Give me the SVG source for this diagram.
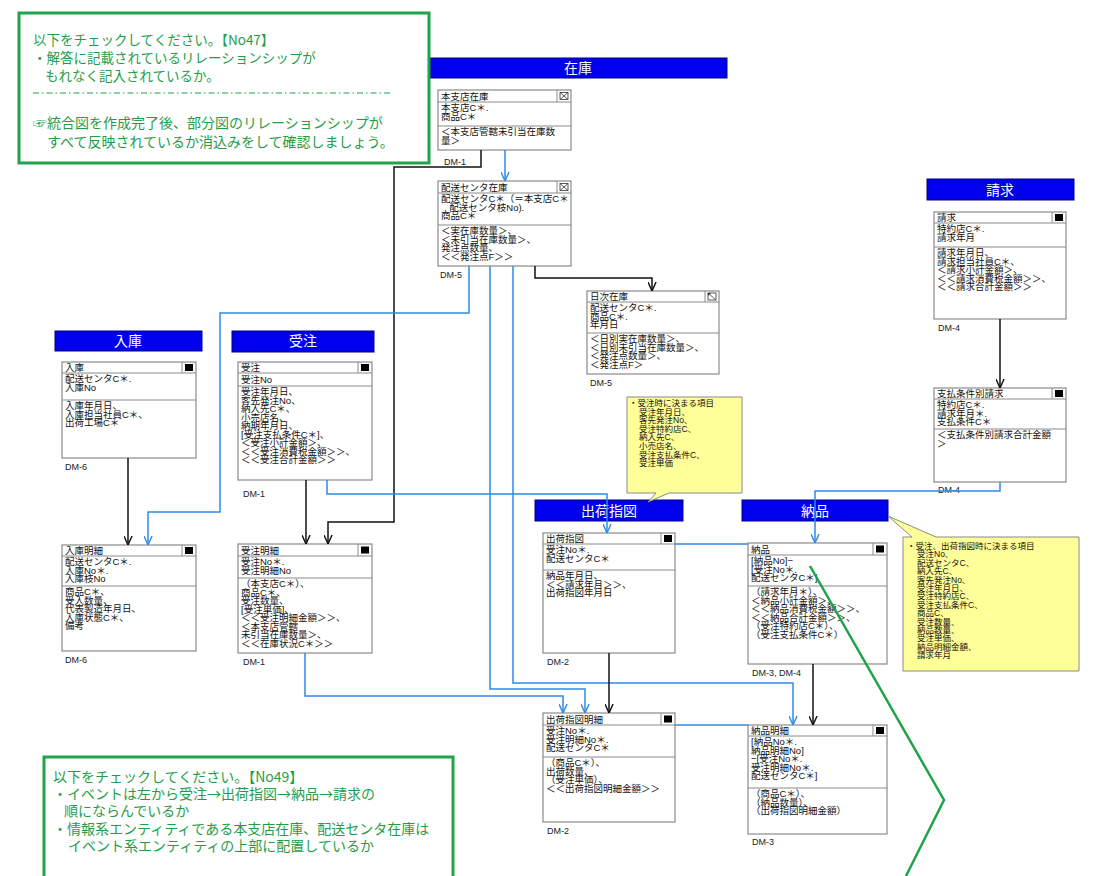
<svg xmlns="http://www.w3.org/2000/svg" width="1095" height="876" viewBox="0 0 1095 876">
<style>
.bg{fill:#ffffff}
.box{fill:#ffffff;stroke:#8a8a8a;stroke-width:1.2}
.sep{stroke:#8a8a8a;stroke-width:1}
.t{font-family:'Liberation Sans','Noto Sans CJK JP',sans-serif;font-size:9.5px;fill:#111}
.dm{font-family:'Liberation Sans','Noto Sans CJK JP',sans-serif;font-size:9px;fill:#222}
.hd{fill:#0000ee;stroke:#00007a;stroke-width:1}
.ht{font-family:'Liberation Sans','Noto Sans CJK JP',sans-serif;font-size:14px;fill:#ffffff;text-anchor:middle}
.ic{fill:#000}
.bl{fill:none;stroke:#2e8ae6;stroke-width:1.5}
.bk{fill:none;stroke:#111;stroke-width:1.5}
.note{fill:#ffff99;stroke:#8a8a8a;stroke-width:1}
.nt{font-family:'Liberation Sans','Noto Sans CJK JP',sans-serif;font-size:8.5px;fill:#111}
.gbox{fill:#ffffff;stroke:#1fa34a;stroke-width:3}
.gt{font-family:'Noto Sans CJK JP',sans-serif;fill:#1f9e4a}
</style>
<defs>
<marker id="ab" viewBox="0 0 10 10" refX="10" refY="5" markerWidth="9" markerHeight="9" markerUnits="userSpaceOnUse" orient="auto">
<path d="M0,0.5 L10,5 L0,9.5" fill="none" stroke="#111" stroke-width="1.6"/>
</marker>
<marker id="au" viewBox="0 0 10 10" refX="10" refY="5" markerWidth="9" markerHeight="9" markerUnits="userSpaceOnUse" orient="auto">
<path d="M0,0.5 L10,5 L0,9.5" fill="none" stroke="#2e8ae6" stroke-width="1.6"/>
</marker>
</defs>
<rect class="bg" x="0" y="0" width="1095" height="876"/>

<!-- headers -->
<g id="hdr-zaiko"><rect class="hd" x="430" y="58" width="297" height="20"/><text class="ht" x="578" y="73">在庫</text></g>
<g id="hdr-seikyu"><rect class="hd" x="927" y="179" width="147" height="21"/><text class="ht" x="1000" y="195">請求</text></g>
<g id="hdr-nyuko"><rect class="hd" x="55" y="331" width="147" height="20"/><text class="ht" x="128" y="346">入庫</text></g>
<g id="hdr-juchu"><rect class="hd" x="232" y="331" width="142" height="21"/><text class="ht" x="303" y="346">受注</text></g>
<g id="hdr-shukka"><rect class="hd" x="535" y="500" width="148" height="21"/><text class="ht" x="609" y="516">出荷指図</text></g>
<g id="hdr-nohin"><rect class="hd" x="742" y="500" width="146" height="21"/><text class="ht" x="815" y="516">納品</text></g>

<!-- green note top -->
<g id="note-no47">
<rect class="gbox" x="19" y="13" width="410" height="150"/>
<text class="gt" font-size="13.5" x="33" y="45">以下をチェックしてください。【No47】</text>
<text class="gt" font-size="13.5" x="33" y="63">・解答に記載されているリレーションシップが</text>
<text class="gt" font-size="13.5" x="45" y="81">もれなく記入されているか。</text>
<line x1="33" y1="93" x2="393" y2="93" stroke="#1fa34a" stroke-width="1" stroke-dasharray="6,3,1.5,3"/>
<text class="gt" font-size="14" x="33" y="128">☞統合図を作成完了後、部分図のリレーションシップが</text>
<text class="gt" font-size="14" x="47" y="147">すべて反映されているか消込みをして確認しましょう。</text>
</g>

<!-- green note bottom -->
<g id="note-no49">
<rect class="gbox" x="44" y="757" width="409" height="130"/>
<text class="gt" font-size="14" x="53" y="782">以下をチェックしてください。【No49】</text>
<text class="gt" font-size="14" x="53" y="799">・イベントは左から受注→出荷指図→納品→請求の</text>
<text class="gt" font-size="14" x="64" y="816">順にならんでいるか</text>
<text class="gt" font-size="14" x="53" y="834">・情報系エンティティである本支店在庫、配送センタ在庫は</text>
<text class="gt" font-size="14" x="68" y="851">イベント系エンティティの上部に配置しているか</text>
</g>

<!-- yellow notes -->
<g id="note-juchu">
<path class="note" d="M627,397 H742 V493 H669 L648,502 L656,493 H627 Z"/>
<text class="nt" x="629" y="406">・受注時に決まる項目</text>
<text class="nt" x="639" y="414.6">受注年月日、</text>
<text class="nt" x="639" y="423.2">客先発注No、</text>
<text class="nt" x="639" y="431.8">受注特約店C、</text>
<text class="nt" x="639" y="440.4">納入先C、</text>
<text class="nt" x="639" y="449">小売店名、</text>
<text class="nt" x="639" y="457.6">受注支払条件C、</text>
<text class="nt" x="639" y="466.2">受注単価</text>
</g>
<g id="note-shukka">
<path class="note" d="M903,537 H912 L888,516 L936,537 H1079 V671 H903 Z"/>
<text class="nt" x="907" y="549">・受注、出荷指図時に決まる項目</text>
<text class="nt" x="917" y="557.4">受注No、</text>
<text class="nt" x="917" y="565.8">配送センタC、</text>
<text class="nt" x="917" y="574.2">納入先C、</text>
<text class="nt" x="917" y="582.6">客先発注No、</text>
<text class="nt" x="917" y="591">受注年月日、</text>
<text class="nt" x="917" y="599.4">受注特約店C、</text>
<text class="nt" x="917" y="607.8">受注支払条件C、</text>
<text class="nt" x="917" y="616.2">商品C、</text>
<text class="nt" x="917" y="624.6">受注数量、</text>
<text class="nt" x="917" y="633">納品数量、</text>
<text class="nt" x="917" y="641.4">受注単価、</text>
<text class="nt" x="917" y="649.8">納品明細金額、</text>
<text class="nt" x="917" y="658.2">請求年月</text>
</g>

<!-- entities -->
<g id="e-honshiten">
<rect class="box" x="438" y="90" width="133" height="60"/>
<line class="sep" x1="438" y1="102" x2="571" y2="102"/><line class="sep" x1="438" y1="126" x2="571" y2="126"/><line class="sep" x1="557" y1="90" x2="557" y2="102"/>
<rect x="560" y="92.5" width="8" height="7" fill="none" stroke="#333" stroke-width="0.8"/><path d="M560,92.5 L568,99.5 M568,92.5 L560,99.5" stroke="#333" stroke-width="0.8"/>
<text class="t" x="441" y="99.5">本支店在庫</text>
<text class="t" x="441" y="111">本支店C＊.</text><text class="t" x="441" y="119.5">商品C＊</text>
<text class="t" x="441" y="135">＜本支店管轄未引当在庫数</text><text class="t" x="441" y="143.5">量＞</text>
<text class="dm" x="444" y="165">DM-1</text>
</g>
<g id="e-haiso">
<rect class="box" x="438" y="181" width="133" height="85"/>
<line class="sep" x1="438" y1="193" x2="571" y2="193"/><line class="sep" x1="438" y1="225" x2="571" y2="225"/><line class="sep" x1="557" y1="181" x2="557" y2="193"/>
<rect x="560" y="183.5" width="8" height="7" fill="none" stroke="#333" stroke-width="0.8"/><path d="M560,183.5 L568,190.5 M568,183.5 L560,190.5" stroke="#333" stroke-width="0.8"/>
<text class="t" x="441" y="190.5">配送センタ在庫</text>
<text class="t" x="441" y="202">配送センタC＊（＝本支店C＊</text><text class="t" x="444" y="210.5">. 配送センタ枝No).</text><text class="t" x="441" y="219">商品C＊</text>
<text class="t" x="441" y="234">＜実在庫数量＞、</text><text class="t" x="441" y="242.5">＜未引当在庫数量＞、</text><text class="t" x="441" y="251">発注点数量、</text><text class="t" x="441" y="259.5">＜＜発注点F＞＞</text>
<text class="dm" x="440" y="278">DM-5</text>
</g>
<g id="e-nichiji">
<rect class="box" x="587" y="291" width="132" height="83"/>
<line class="sep" x1="587" y1="302" x2="719" y2="302"/><line class="sep" x1="587" y1="333" x2="719" y2="333"/><line class="sep" x1="705" y1="291" x2="705" y2="302"/>
<rect x="708" y="293" width="8" height="7" fill="none" stroke="#333" stroke-width="0.8"/><path d="M708,293 L716,300" stroke="#333" stroke-width="0.8"/><path d="M708,293 L711,293 L708,296 Z" fill="#333"/>
<text class="t" x="590" y="300">日次在庫</text>
<text class="t" x="590" y="311">配送センタC＊.</text><text class="t" x="590" y="319.5">商品C＊.</text><text class="t" x="590" y="328">年月日</text>
<text class="t" x="590" y="342">＜日別実在庫数量＞、</text><text class="t" x="590" y="350.5">＜日別未引当在庫数量＞、</text><text class="t" x="590" y="359">＜発注点数量＞、</text><text class="t" x="590" y="367.5">＜発注点F＞</text>
<text class="dm" x="590" y="386">DM-5</text>
</g>
<g id="e-seikyu">
<rect class="box" x="934" y="212" width="132" height="107"/>
<line class="sep" x1="934" y1="223" x2="1066" y2="223"/><line class="sep" x1="934" y1="247" x2="1066" y2="247"/><line class="sep" x1="1052" y1="212" x2="1052" y2="223"/>
<rect class="ic" x="1055" y="214" width="8" height="7"/>
<text class="t" x="937" y="221">請求</text>
<text class="t" x="937" y="232">特約店C＊.</text><text class="t" x="937" y="240.5">請求年月</text>
<text class="t" x="937" y="256">請求年月日、</text><text class="t" x="937" y="264.5">請求担当社員C＊、</text><text class="t" x="937" y="273">＜請求小計金額＞、</text><text class="t" x="937" y="281.5">＜＜請求消費税金額＞＞、</text><text class="t" x="937" y="290">＜＜請求合計金額＞＞</text>
<text class="dm" x="938" y="331">DM-4</text>
</g>
<g id="e-shiharai">
<rect class="box" x="934" y="388" width="132" height="94"/>
<line class="sep" x1="934" y1="399" x2="1066" y2="399"/><line class="sep" x1="934" y1="429" x2="1066" y2="429"/><line class="sep" x1="1052" y1="388" x2="1052" y2="399"/>
<rect class="ic" x="1055" y="390" width="8" height="7"/>
<text class="t" x="937" y="397">支払条件別請求</text>
<text class="t" x="937" y="408">特約店C＊.</text><text class="t" x="937" y="416.5">請求年月＊.</text><text class="t" x="937" y="425">支払条件C＊</text>
<text class="t" x="937" y="438">＜支払条件別請求合計金額</text><text class="t" x="937" y="446.5">＞</text>
<text class="dm" x="938" y="493">DM-4</text>
</g>
<g id="e-nyuko">
<rect class="box" x="62" y="362" width="134" height="96"/>
<line class="sep" x1="62" y1="373" x2="196" y2="373"/><line class="sep" x1="62" y1="400" x2="196" y2="400"/><line class="sep" x1="182" y1="362" x2="182" y2="373"/>
<rect class="ic" x="185" y="364" width="8" height="7"/>
<text class="t" x="65" y="371">入庫</text>
<text class="t" x="65" y="382">配送センタC＊.</text><text class="t" x="65" y="390.5">入庫No</text>
<text class="t" x="65" y="409">入庫年月日、</text><text class="t" x="65" y="417.5">入庫担当社員C＊、</text><text class="t" x="65" y="426">出荷工場C＊</text>
<text class="dm" x="65" y="470">DM-6</text>
</g>
<g id="e-nyukomeisai">
<rect class="box" x="62" y="545" width="134" height="106"/>
<line class="sep" x1="62" y1="556" x2="196" y2="556"/><line class="sep" x1="62" y1="586" x2="196" y2="586"/><line class="sep" x1="182" y1="545" x2="182" y2="556"/>
<rect class="ic" x="185" y="547" width="8" height="7"/>
<text class="t" x="65" y="554">入庫明細</text>
<text class="t" x="65" y="565">配送センタC＊.</text><text class="t" x="65" y="573.5">入庫No＊.</text><text class="t" x="65" y="582">入庫枝No</text>
<text class="t" x="65" y="595">商品C＊、</text><text class="t" x="65" y="603.5">受入数量、</text><text class="t" x="65" y="612">代表製造年月日、</text><text class="t" x="65" y="620.5">入庫状態C＊、</text><text class="t" x="65" y="629">備考</text>
<text class="dm" x="65" y="663">DM-6</text>
</g>
<g id="e-juchu">
<rect class="box" x="238" y="362" width="134" height="118"/>
<line class="sep" x1="238" y1="373" x2="372" y2="373"/><line class="sep" x1="238" y1="386" x2="372" y2="386"/><line class="sep" x1="358" y1="362" x2="358" y2="373"/>
<rect class="ic" x="361" y="364" width="8" height="7"/>
<text class="t" x="241" y="371">受注</text>
<text class="t" x="241" y="382.5">受注No</text>
<text class="t" x="241" y="395">受注年月日、</text><text class="t" x="241" y="403.5">客先発注No、</text><text class="t" x="241" y="412">納入先C＊、</text><text class="t" x="241" y="420.5">小売店名、</text><text class="t" x="241" y="429">納期年月日、</text><text class="t" x="241" y="437.5">[受注支払条件C＊]、</text><text class="t" x="241" y="446">＜受注小計金額＞、</text><text class="t" x="241" y="454.5">＜＜受注消費税金額＞＞、</text><text class="t" x="241" y="463">＜＜受注合計金額＞＞</text>
<text class="dm" x="243" y="497">DM-1</text>
</g>
<g id="e-juchumeisai">
<rect class="box" x="238" y="544" width="134" height="109"/>
<line class="sep" x1="238" y1="556" x2="372" y2="556"/><line class="sep" x1="238" y1="578" x2="372" y2="578"/><line class="sep" x1="358" y1="544" x2="358" y2="556"/>
<rect class="ic" x="361" y="546.5" width="8" height="7"/>
<text class="t" x="241" y="553.5">受注明細</text>
<text class="t" x="241" y="565">受注No＊.</text><text class="t" x="241" y="573.5">受注明細No</text>
<text class="t" x="241" y="587">（本支店C＊）、</text><text class="t" x="241" y="595.5">商品C＊、</text><text class="t" x="241" y="604">受注数量、</text><text class="t" x="241" y="612.5">[受注単価]、</text><text class="t" x="241" y="621">＜＜受注明細金額＞＞、</text><text class="t" x="241" y="629.5">＜本支店管轄</text><text class="t" x="241" y="638">未引当在庫数量＞、</text><text class="t" x="241" y="646.5">＜＜在庫状況C＊＞＞</text>
<text class="dm" x="243" y="665">DM-1</text>
</g>
<g id="e-shukka">
<rect class="box" x="543" y="533" width="132" height="120"/>
<line class="sep" x1="543" y1="544" x2="675" y2="544"/><line class="sep" x1="543" y1="570" x2="675" y2="570"/><line class="sep" x1="661" y1="533" x2="661" y2="544"/>
<rect class="ic" x="664" y="535" width="8" height="7"/>
<text class="t" x="546" y="542">出荷指図</text>
<text class="t" x="546" y="553">受注No＊.</text><text class="t" x="546" y="561.5">配送センタC＊</text>
<text class="t" x="546" y="579">納品年月日、</text><text class="t" x="546" y="587.5">＜＜請求年月＞＞、</text><text class="t" x="546" y="596">出荷指図年月日</text>
<text class="dm" x="547" y="665">DM-2</text>
</g>
<g id="e-shukkameisai">
<rect class="box" x="543" y="713" width="132" height="109"/>
<line class="sep" x1="543" y1="725" x2="675" y2="725"/><line class="sep" x1="543" y1="757" x2="675" y2="757"/><line class="sep" x1="661" y1="713" x2="661" y2="725"/>
<rect class="ic" x="664" y="715.5" width="8" height="7"/>
<text class="t" x="546" y="722.5">出荷指図明細</text>
<text class="t" x="546" y="734">受注No＊.</text><text class="t" x="546" y="742.5">受注明細No＊.</text><text class="t" x="546" y="751">配送センタC＊</text>
<text class="t" x="546" y="766">（商品C＊）、</text><text class="t" x="546" y="774.5">出荷数量、</text><text class="t" x="546" y="783">（受注単価）、</text><text class="t" x="546" y="791.5">＜＜出荷指図明細金額＞＞</text>
<text class="dm" x="547" y="834">DM-2</text>
</g>
<g id="e-nohin">
<rect class="box" x="748" y="543" width="139" height="121"/>
<line class="sep" x1="748" y1="555" x2="887" y2="555"/><line class="sep" x1="748" y1="586" x2="887" y2="586"/><line class="sep" x1="873" y1="543" x2="873" y2="555"/>
<rect class="ic" x="876" y="545.5" width="8" height="7"/>
<text class="t" x="751" y="552.5">納品</text>
<text class="t" x="751" y="564">[納品No]−</text><text class="t" x="751" y="572.5">[受注No＊.</text><text class="t" x="751" y="581">配送センタC＊]</text>
<text class="t" x="751" y="595">（請求年月＊）、</text><text class="t" x="751" y="603.5">＜納品小計金額＞、</text><text class="t" x="751" y="612">＜＜納品消費税金額＞＞、</text><text class="t" x="751" y="620.5">＜＜納品合計金額＞＞、</text><text class="t" x="751" y="629">（受注特約店C＊）、</text><text class="t" x="751" y="637.5">（受注支払条件C＊）</text>
<text class="dm" x="752" y="676">DM-3, DM-4</text>
</g>
<g id="e-nohinmeisai">
<rect class="box" x="748" y="725" width="139" height="109"/>
<line class="sep" x1="748" y1="736" x2="887" y2="736"/><line class="sep" x1="748" y1="788" x2="887" y2="788"/><line class="sep" x1="873" y1="725" x2="873" y2="736"/>
<rect class="ic" x="876" y="727" width="8" height="7"/>
<text class="t" x="751" y="734">納品明細</text>
<text class="t" x="751" y="745">[納品No＊.</text><text class="t" x="751" y="753.5">納品明細No]</text><text class="t" x="751" y="762">−[受注No＊.</text><text class="t" x="751" y="770.5">受注明細No＊.</text><text class="t" x="751" y="779">配送センタC＊]</text>
<text class="t" x="751" y="797">（商品C＊）、</text><text class="t" x="751" y="805.5">（納品数量）、</text><text class="t" x="751" y="814">（出荷指図明細金額）</text>
<text class="dm" x="752" y="845">DM-3</text>
</g>

<!-- connectors -->
<g id="connectors">
<polyline class="bl" points="505,150 505,181" marker-end="url(#au)"/>
<polyline class="bk" points="481,150 481,167 394,167 394,522 328,522 328,544" marker-end="url(#ab)"/>
<polyline class="bl" points="469,266 469,313 220,313 220,512 148,512 148,545" marker-end="url(#au)"/>
<polyline class="bk" points="535,266 535,278 652,278 652,291" marker-end="url(#ab)"/>
<polyline class="bl" points="490,266 490,689 585,689 585,713" marker-end="url(#au)"/>
<polyline class="bl" points="513,266 513,683 793,683 793,725" marker-end="url(#au)"/>
<polyline class="bk" points="306,480 306,544" marker-end="url(#ab)"/>
<polyline class="bl" points="327,480 327,494 607,494 607,533" marker-end="url(#au)"/>
<polyline class="bl" points="305,653 305,696 563,696 563,713" marker-end="url(#au)"/>
<polyline class="bk" points="609,653 609,713" marker-end="url(#ab)"/>
<polyline class="bl" points="675,544 748,544"/>
<polyline class="bl" points="675,725 748,725"/>
<polyline class="bk" points="813,664 813,725" marker-end="url(#ab)"/>
<polyline class="bl" points="1000,482 1000,491 815,491 815,543" marker-end="url(#au)"/>
<polyline class="bk" points="1000,319 1000,388" marker-end="url(#ab)"/>
<polyline class="bk" points="128,458 128,545" marker-end="url(#ab)"/>
</g>
<polyline id="green-check" points="810,566 944,800 906,876" fill="none" stroke="#1fa34a" stroke-width="2.5"/>
</svg>
